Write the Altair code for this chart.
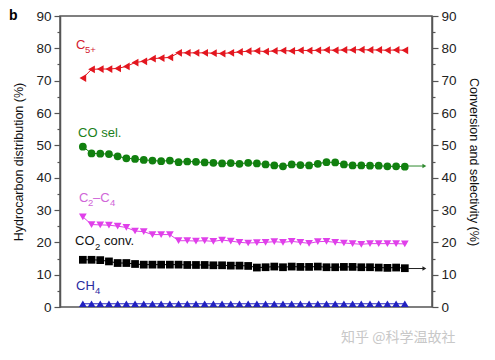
import altair as alt
import pandas as pd

time_h = [4, 8, 12, 16, 20, 24, 28, 32, 36, 40, 44, 48, 52, 56, 60, 64, 68, 72, 76,
          80, 84, 88, 92, 96, 100, 104, 108, 112, 116, 120, 124, 128, 132, 136, 140, 144, 148, 152]

c5 = [70.8, 73.5, 73.6, 73.6, 73.8, 74.4, 75.6, 76.0, 76.8, 77.0, 77.2, 78.6, 78.6, 78.6, 78.6,
      78.5, 78.4, 78.6, 78.9, 79.1, 79.2, 79.0, 79.2, 79.3, 79.2, 79.4, 79.3, 79.4, 79.5, 79.4,
      79.5, 79.5, 79.6, 79.5, 79.5, 79.4, 79.5, 79.4]
co_sel = [49.6, 47.5, 47.4, 47.3, 46.6, 46.0, 45.8, 45.5, 45.3, 45.1, 45.3, 44.8, 45.0, 44.9,
          44.7, 44.6, 44.4, 44.5, 44.3, 44.6, 44.4, 44.1, 43.8, 43.5, 44.1, 43.9, 43.8, 44.3,
          44.8, 44.7, 44.1, 43.8, 43.8, 43.7, 43.7, 43.5, 43.5, 43.4]
c2c4 = [27.9, 25.5, 25.4, 25.3, 25.0, 24.6, 23.5, 23.3, 22.4, 22.4, 22.4, 20.5, 20.5, 20.4,
        20.5, 20.3, 20.7, 20.4, 20.0, 19.8, 19.9, 20.0, 20.2, 20.0, 20.3, 20.0, 19.7, 20.2,
        20.3, 20.0, 19.8, 19.6, 19.4, 19.6, 19.6, 19.6, 19.6, 19.5]
co2_conv = [14.6, 14.6, 14.5, 14.1, 13.6, 13.6, 13.3, 13.1, 13.1, 13.1, 13.1, 13.1, 13.0, 13.0,
            13.0, 12.9, 12.9, 12.8, 12.8, 12.7, 12.2, 12.3, 12.5, 12.3, 12.5, 12.4, 12.4, 12.5,
            12.3, 12.3, 12.4, 12.4, 12.3, 12.3, 12.2, 12.1, 12.2, 12.0]
ch4 = [1.0, 1.0, 1.0, 1.0, 1.0, 1.0, 1.0, 1.0, 1.0, 1.0, 1.0, 1.0, 1.0, 1.0, 1.0, 1.0, 1.0, 1.0,
       1.0, 1.0, 1.0, 1.0, 1.0, 1.0, 1.0, 1.0, 1.0, 1.0, 1.0, 1.0, 1.0, 1.0, 1.0, 1.0, 1.0, 1.0,
       1.0, 1.0]

series_names = ["C5+", "CO sel.", "C2-C4", "CO2 conv.", "CH4"]
series_values = [c5, co_sel, c2c4, co2_conv, ch4]
series_colors = ["#e3161f", "#11800f", "#e040ea", "#000000", "#2222c0"]
series_shapes = ["triangle-left", "circle", "triangle-down", "square", "triangle-up"]

# arrows pointing to the right axis (CO sel. and CO2 conv.)
arrow_y = [43.6, 11.9]
arrow_x0 = [153.5, 153.5]
arrow_x1 = [161.0, 161.0]
arrow_colors = ["#2f8a2f", "#222222"]

# series labels (pieces: text, x, y, font size, colour)
label_text = ["C", "5+", "CO sel.", "C", "2", "\u2013C", "4", "CO", "2", "conv.", "CH", "4"]
label_x = [0.9, 5.0, 1.8, 2.25, 6.4, 8.7, 16.5, 0.4, 9.6, 13.7, 0.9, 9.6]
label_y = [79.8, 78.6, 52.6, 32.5, 31.2, 32.5, 31.2, 19.2, 17.6, 19.2, 5.3, 4.0]
label_size = [13, 9.5, 13, 13, 9.5, 13, 9.5, 13, 9.5, 13, 13, 9.5]
label_color = ["#d42030", "#d42030", "#1a801a", "#d066d8", "#d066d8", "#d066d8", "#d066d8",
               "#111111", "#111111", "#111111", "#2a2aa0", "#2a2aa0"]

rows = []
for name, vals in zip(series_names, series_values):
    for t, v in zip(time_h, vals):
        rows.append({"t": t, "v": v, "s": name})
df = pd.DataFrame(rows)

arrow_rows = []
for i, (y, x0, x1, c) in enumerate(zip(arrow_y, arrow_x0, arrow_x1, arrow_colors)):
    arrow_rows.append({"x": x0, "y": y, "id": i, "c": c, "end": False})
    arrow_rows.append({"x": x1, "y": y, "id": i, "c": c, "end": True})
arrows = pd.DataFrame(arrow_rows)

labels = pd.DataFrame({"x": label_x, "y": label_y, "text": label_text,
                       "size": label_size, "color": label_color})

FONT = "Liberation Sans"
AX = "#555555"

xscale = alt.Scale(domain=[-6.5, 164.5], nice=False, zero=False)


def yscale():
    return alt.Scale(domain=[0, 90], nice=False)


xaxis = alt.Axis(
    title="Reaction time (h)",
    values=list(range(0, 161, 10)),
    labelExpr="datum.value % 20 === 0 ? datum.label : ''",
    tickSize={"condition": {"test": "datum.value % 20 === 0", "value": 6}, "value": 3},
    grid=False, domainColor=AX, tickColor=AX, domainWidth=1.5, tickWidth=1.2,
    labelFont=FONT, labelFontSize=13.5, labelColor="#222222", labelPadding=3,
    titleFont=FONT, titleFontSize=12.5, titleFontWeight="normal", titleColor="#111111",
    titlePadding=8,
)


def yaxis(orient, title):
    return alt.Axis(
        orient=orient, title=title,
        values=list(range(0, 91, 5)),
        labelExpr="datum.value % 10 === 0 ? datum.label : ''",
        tickSize={"condition": {"test": "datum.value % 10 === 0", "value": 6}, "value": 3},
        grid=False, domainColor=AX, tickColor=AX, domainWidth=1.5, tickWidth=1.2,
        labelFont=FONT, labelFontSize=13.5, labelColor="#222222", labelPadding=3,
        titleFont=FONT, titleFontSize=12.5, titleFontWeight="normal", titleColor="#111111",
        titlePadding=10,
    )


color_enc = alt.Color("s:N", scale=alt.Scale(domain=series_names, range=series_colors), legend=None)
shape_enc = alt.Shape("s:N", scale=alt.Scale(domain=series_names, range=series_shapes), legend=None)

lines = alt.Chart(df).mark_line(strokeWidth=1).encode(
    x=alt.X("t:Q", scale=xscale, axis=xaxis),
    y=alt.Y("v:Q", scale=yscale(), axis=yaxis("left", "Hydrocarbon distribution (%)")),
    color=color_enc,
    detail="s:N",
)

points = alt.Chart(df).mark_point(filled=True, size=60, opacity=1).encode(
    x=alt.X("t:Q", scale=xscale, axis=None),
    y=alt.Y("v:Q", scale=yscale(), axis=None),
    color=color_enc,
    shape=shape_enc,
)

arrow_lines = alt.Chart(arrows).mark_line(strokeWidth=1).encode(
    x=alt.X("x:Q", scale=xscale, axis=None),
    y=alt.Y("y:Q", scale=yscale(), axis=yaxis("right", "Conversion and  selectivity (%)")),
    detail="id:N",
    color=alt.Color("c:N", scale=None),
)

arrow_heads = alt.Chart(arrows).transform_filter("datum.end").mark_point(
    shape="triangle-right", filled=True, size=20, opacity=1
).encode(
    x=alt.X("x:Q", scale=xscale, axis=None),
    y=alt.Y("y:Q", scale=yscale(), axis=None),
    color=alt.Color("c:N", scale=None),
)

texts = alt.Chart(labels).mark_text(align="left", baseline="alphabetic", font=FONT).encode(
    x=alt.X("x:Q", scale=xscale, axis=None),
    y=alt.Y("y:Q", scale=yscale(), axis=None),
    text="text:N",
    size=alt.Size("size:Q", scale=None),
    color=alt.Color("color:N", scale=None),
)

panel = alt.Chart(pd.DataFrame({"t": ["b"]})).mark_text(
    align="left", baseline="top", font=FONT, fontSize=14, fontWeight="bold", color="#000000"
).encode(x=alt.value(-51), y=alt.value(-7), text="t:N")

watermark = alt.Chart(pd.DataFrame({"t": ["知乎 @科学温故社"]})).mark_text(
    align="left", baseline="middle", font="Noto Sans CJK SC", fontSize=14, color="#c8c8c8"
).encode(x=alt.value(281), y=alt.value(322), text="t:N")

chart = alt.layer(
    lines, points, arrow_lines, arrow_heads, texts, panel, watermark
).resolve_scale(y="independent").properties(
    width=372, height=291,
    autosize="none",
    padding={"left": 52, "top": 8, "right": 55, "bottom": 45},
).configure_view(stroke=AX, strokeWidth=1.5)

chart.save("out.html", embed_options={"renderer": "svg", "actions": False})
